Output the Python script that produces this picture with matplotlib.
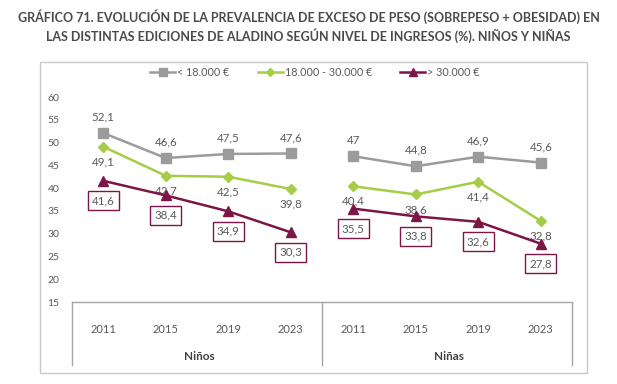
import matplotlib
matplotlib.use("Agg")
import matplotlib.pyplot as plt
from matplotlib.patches import Rectangle
from matplotlib.lines import Line2D

plt.rcParams['font.family'] = ['Lato', 'DejaVu Sans']

years = ["2011", "2015", "2019", "2023"]
groups = ["Niños", "Niñas"]
series_names = ["< 18.000 €", "18.000 - 30.000 €", "> 30.000 €"]
ninos_low = [52.1, 46.6, 47.5, 47.6]
ninos_mid = [49.1, 42.7, 42.5, 39.8]
ninos_high = [41.6, 38.4, 34.9, 30.3]
ninas_low = [47.0, 44.8, 46.9, 45.6]
ninas_mid = [40.4, 38.6, 41.4, 32.8]
ninas_high = [35.5, 33.8, 32.6, 27.8]
yticks = [15, 20, 25, 30, 35, 40, 45, 50, 55, 60]

colors = ["#9b9b9b", "#a5cd45", "#7d1646"]
markers = ["s", "D", "^"]
msizes = [7, 5, 7]
txt = "#595959"

W, H = 617, 384
fig = plt.figure(figsize=(W / 100, H / 100), dpi=100)

def fx(px):
    return px / W

def fy(py):
    return 1 - py / H

# outer frame
fig.patches.append(Rectangle((fx(40), fy(373)), fx(587) - fx(40), fy(62) - fy(373),
                             transform=fig.transFigure, fill=False,
                             edgecolor="#c8c8c8", lw=1.0, zorder=0))

# title
fig.text(0.5, fy(17), "GRÁFICO 71. EVOLUCIÓN DE LA PREVALENCIA DE EXCESO DE PESO (SOBREPESO + OBESIDAD) EN",
         ha="center", va="center", fontsize=9.0, fontweight="bold", color="#4a4a4a")
fig.text(0.5, fy(36), "LAS DISTINTAS EDICIONES DE ALADINO SEGÚN NIVEL DE INGRESOS (%). NIÑOS Y NIÑAS",
         ha="center", va="center", fontsize=9.0, fontweight="bold", color="#4a4a4a")

ax_left, ax_right = 72, 572
ax_top, ax_bot = 97, 302
ax = fig.add_axes([fx(ax_left), fy(ax_bot), fx(ax_right) - fx(ax_left), fy(ax_top) - fy(ax_bot)])
ax.set_xlim(-0.5, 7.5)
ax.set_ylim(15, 60)
for s in ["top", "right", "left"]:
    ax.spines[s].set_visible(False)
ax.spines["bottom"].set_color("#a6a6a6")
ax.spines["bottom"].set_linewidth(1.0)
ax.set_yticks(yticks)
ax.set_yticklabels([str(v) for v in yticks], fontsize=7.5, color=txt)
ax.tick_params(axis="y", length=0, pad=9)
ax.set_xticks(range(8))
ax.set_xticklabels(years + years, fontsize=8, color=txt)
ax.tick_params(axis="x", length=0, pad=16)

data = [
    [ninos_low, ninos_mid, ninos_high],
    [ninas_low, ninas_mid, ninas_high],
]

for g in range(2):
    xs = [g * 4 + i for i in range(4)]
    for k in range(3):
        vals = data[g][k]
        ax.plot(xs, vals, color=colors[k], lw=1.8, marker=markers[k], ms=msizes[k],
                markerfacecolor=colors[k], markeredgecolor=colors[k], clip_on=False, zorder=3)
        for x, v in zip(xs, vals):
            lab = ("%g" % v).replace(".", ",")
            if k == 0:
                ax.annotate(lab, (x, v), xytext=(0, 16), textcoords="offset pixels",
                            ha="center", va="center", fontsize=8.3, color=txt)
            elif k == 1:
                ax.annotate(lab, (x, v), xytext=(0, -15), textcoords="offset pixels",
                            ha="center", va="center", fontsize=8.3, color=txt)
            else:
                ax.annotate(lab, (x, v), xytext=(0, -20), textcoords="offset pixels",
                            ha="center", va="center", fontsize=8.3, color=txt,
                            bbox=dict(boxstyle="square,pad=0.35", fc="white",
                                      ec=colors[2], lw=1.0))

# multi-level category separators
for px in [ax_left, 322, ax_right]:
    fig.add_artist(Line2D([fx(px), fx(px)], [fy(ax_bot), fy(365)], color="#a6a6a6", lw=1.0))

for g, name in enumerate(groups):
    cx = (ax_left + 127 + g * 250)
    fig.text(fx(cx), fy(357), name, ha="center", va="center", fontsize=8.5,
             fontweight="bold", color="#404040")

handles = [Line2D([], [], color=colors[k], lw=1.8, marker=markers[k], ms=msizes[k] * 0.8)
           for k in range(3)]
fig.legend(handles, series_names, loc="center", bbox_to_anchor=(fx(315), fy(72)), ncol=3,
           frameon=False, fontsize=7.8, labelcolor=txt, handlelength=2.3,
           handletextpad=0.2, columnspacing=2.6)

fig.savefig("out.png", dpi=100)
